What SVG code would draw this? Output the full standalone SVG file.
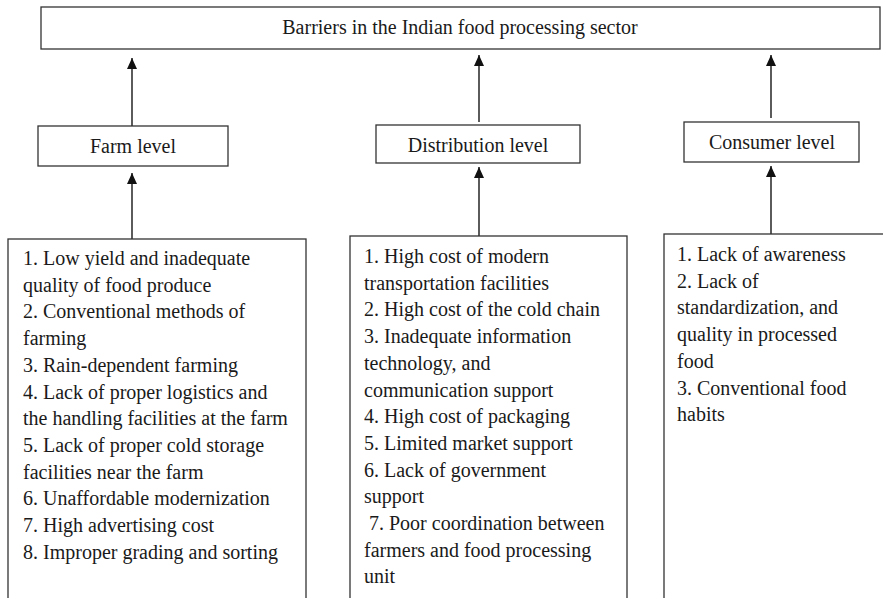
<svg xmlns="http://www.w3.org/2000/svg" width="883" height="598" viewBox="0 0 883 598">
<style>
.box{fill:#fff;stroke:#333;stroke-width:1.3}
.t{font-family:'Liberation Serif',Tinos,'Times New Roman',Times,'DejaVu Serif',serif;font-size:20px;fill:#1a1a1a}
.c{text-anchor:middle}
.ln{stroke:#333;stroke-width:1.6;fill:none}
</style>
<defs>
<marker id="ah" markerUnits="userSpaceOnUse" markerWidth="11" markerHeight="10" refX="11" refY="5" orient="auto" viewBox="0 0 11 10">
<path d="M0,0 L11,5 L0,10 Z" fill="#111"/>
</marker>
</defs>
<rect width="883" height="598" fill="#fff"/>
<g id="top">
<rect class="box" x="41" y="7" width="839" height="42"/>
<text class="t c" x="460" y="34" font-family="Liberation Serif">Barriers in the Indian food processing sector</text>
</g>
<g id="farm">
<rect class="box" x="38" y="126" width="190" height="40"/>
<text class="t c" x="133" y="153">Farm level</text>
</g>
<g id="distribution">
<rect class="box" x="376" y="125" width="204" height="38"/>
<text class="t c" x="478" y="152">Distribution level</text>
</g>
<g id="consumer">
<rect class="box" x="684" y="122" width="175" height="40"/>
<text class="t c" x="772" y="149">Consumer level</text>
</g>
<g id="farm-list">
<rect class="box" x="8" y="239" width="298" height="370"/>
<text class="t" x="23" y="265">1. Low yield and inadequate</text>
<text class="t" x="23" y="291.7">quality of food produce</text>
<text class="t" x="23" y="318.4">2. Conventional methods of</text>
<text class="t" x="23" y="345.1">farming</text>
<text class="t" x="23" y="371.8">3. Rain-dependent farming</text>
<text class="t" x="23" y="398.5">4. Lack of proper logistics and</text>
<text class="t" x="23" y="425.2">the handling facilities at the farm</text>
<text class="t" x="23" y="451.9">5. Lack of proper cold storage</text>
<text class="t" x="23" y="478.6">facilities near the farm</text>
<text class="t" x="23" y="505.3">6. Unaffordable modernization</text>
<text class="t" x="23" y="532">7. High advertising cost</text>
<text class="t" x="23" y="558.7">8. Improper grading and sorting</text>
</g>
<g id="distribution-list">
<rect class="box" x="350" y="236" width="277" height="370"/>
<text class="t" x="364" y="263">1. High cost of modern</text>
<text class="t" x="364" y="289.7">transportation facilities</text>
<text class="t" x="364" y="316.4">2. High cost of the cold chain</text>
<text class="t" x="364" y="343.1">3. Inadequate information</text>
<text class="t" x="364" y="369.8">technology, and</text>
<text class="t" x="364" y="396.5">communication support</text>
<text class="t" x="364" y="423.2">4. High cost of packaging</text>
<text class="t" x="364" y="449.9">5. Limited market support</text>
<text class="t" x="364" y="476.6">6. Lack of government</text>
<text class="t" x="364" y="503.3">support</text>
<text class="t" x="369" y="530">7. Poor coordination between</text>
<text class="t" x="364" y="556.7">farmers and food processing</text>
<text class="t" x="364" y="583.4">unit</text>
</g>
<g id="consumer-list">
<rect class="box" x="664" y="234" width="240" height="370"/>
<text class="t" x="677" y="261">1. Lack of awareness</text>
<text class="t" x="677" y="287.7">2. Lack of</text>
<text class="t" x="677" y="314.4">standardization, and</text>
<text class="t" x="677" y="341.1">quality in processed</text>
<text class="t" x="677" y="367.8">food</text>
<text class="t" x="677" y="394.5">3. Conventional food</text>
<text class="t" x="677" y="421.2">habits</text>
</g>
<g id="connectors">
<line class="ln" x1="132" y1="126" x2="132" y2="58" marker-end="url(#ah)"/>
<line class="ln" x1="479" y1="122" x2="479" y2="55" marker-end="url(#ah)"/>
<line class="ln" x1="771" y1="118" x2="771" y2="55" marker-end="url(#ah)"/>
<line class="ln" x1="132" y1="239" x2="132" y2="173" marker-end="url(#ah)"/>
<line class="ln" x1="479" y1="236" x2="479" y2="167" marker-end="url(#ah)"/>
<line class="ln" x1="771" y1="234" x2="771" y2="166" marker-end="url(#ah)"/>
</g>
</svg>
